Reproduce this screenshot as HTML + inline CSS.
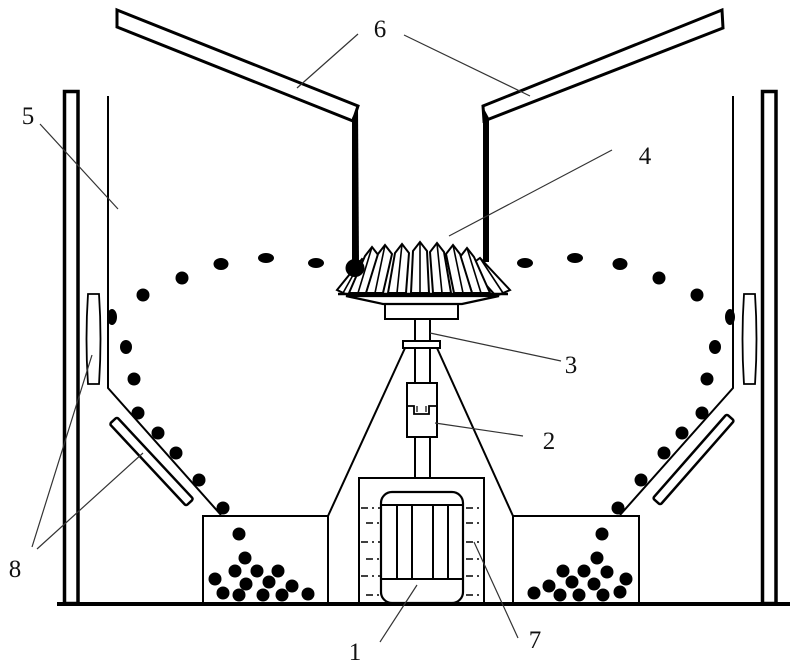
<!DOCTYPE html>
<html><head><meta charset="utf-8"><style>
html,body{margin:0;padding:0;background:#fff;}
svg{display:block;}
text{font-family:"Liberation Serif",serif;font-size:25px;fill:#111;}
</style></head><body>
<svg width="800" height="668" viewBox="0 0 800 668" xmlns="http://www.w3.org/2000/svg">
<rect width="800" height="668" fill="#fff"/>
<g fill="none" stroke="#000" stroke-linejoin="miter">
<!-- outer frames -->
<rect x="64.5" y="91.5" width="13.5" height="512" stroke-width="3.5"/>
<rect x="762.5" y="91.5" width="13.5" height="512" stroke-width="3.5"/>
<!-- inner walls -->
<polyline points="108,96 108,388 221,515" stroke-width="2"/>
<polyline points="733,96 733,388 620,515" stroke-width="2"/>
<!-- vertical lenses 8 -->
<path d="M88,294 L99,294 Q102,339 99,384 L88,384 Q85,339 88,294 Z" stroke-width="1.8"/>
<path d="M744,294 L755,294 Q758,339 755,384 L744,384 Q741,339 744,294 Z" stroke-width="1.8"/>
<!-- tilted lenses -->
<rect x="-56" y="-5" width="112" height="10" rx="2" transform="translate(151.5,461.5) rotate(47)" stroke-width="2.5"/>
<rect x="-56" y="-5" width="112" height="10" rx="2" transform="translate(693.5,459.5) rotate(-48.7)" stroke-width="2.5"/>
<!-- bins -->
<rect x="203" y="516" width="125" height="88" stroke-width="2"/>
<rect x="513" y="516" width="126" height="88" stroke-width="2"/>
<!-- support triangle -->
<line x1="405" y1="348" x2="328" y2="516" stroke-width="2"/>
<line x1="437" y1="348" x2="513" y2="516" stroke-width="2"/>
<!-- shaft -->
<line x1="415" y1="319" x2="415" y2="341" stroke-width="2"/>
<line x1="430" y1="319" x2="430" y2="341" stroke-width="2"/>
<line x1="415" y1="348" x2="415" y2="383" stroke-width="2"/>
<line x1="430" y1="348" x2="430" y2="383" stroke-width="2"/>
<line x1="415" y1="437" x2="415" y2="478" stroke-width="2"/>
<line x1="430" y1="437" x2="430" y2="478" stroke-width="2"/>
<rect x="403" y="341" width="37" height="7" stroke-width="2"/>
<!-- coupling 2 -->
<rect x="407" y="383" width="30" height="54" stroke-width="2"/>
<path d="M407,406 H414 V414 H429 V406 H437" stroke-width="1.8"/>
<line x1="417" y1="406" x2="417" y2="412" stroke-width="1.2"/>
<line x1="426" y1="406" x2="426" y2="412" stroke-width="1.2"/>
<!-- motor box -->
<rect x="359" y="478" width="125" height="126" stroke-width="2"/>
<rect x="381" y="492" width="82" height="111" rx="11" stroke-width="2.2"/>
<line x1="381" y1="505" x2="463" y2="505" stroke-width="2"/>
<line x1="381" y1="579" x2="463" y2="579" stroke-width="2"/>
<line x1="397" y1="505" x2="397" y2="579" stroke-width="2"/>
<line x1="412" y1="505" x2="412" y2="579" stroke-width="2"/>
<line x1="433" y1="505" x2="433" y2="579" stroke-width="2"/>
<line x1="448" y1="505" x2="448" y2="579" stroke-width="2"/>
<g stroke-width="1.5" stroke-dasharray="7,4,2,4">
<line x1="361" y1="508" x2="380" y2="508"/>
<line x1="366" y1="523" x2="380" y2="523"/>
<line x1="361" y1="542" x2="380" y2="542"/>
<line x1="366" y1="559" x2="380" y2="559"/>
<line x1="361" y1="576" x2="380" y2="576"/>
<line x1="366" y1="595" x2="380" y2="595"/>
<line x1="466" y1="508" x2="483" y2="508"/>
<line x1="466" y1="523" x2="483" y2="523"/>
<line x1="466" y1="542" x2="483" y2="542"/>
<line x1="466" y1="559" x2="483" y2="559"/>
<line x1="466" y1="576" x2="483" y2="576"/>
<line x1="466" y1="595" x2="483" y2="595"/>
</g>
<!-- baseline -->
<line x1="57" y1="604" x2="790" y2="604" stroke-width="4"/>
<!-- chutes 6 -->
<polygon points="117,10 358,106 353,121 117,27" stroke-width="3"/>
<polygon points="722,10 483,106 484,121 723,28" stroke-width="3"/>
<!-- plate under gear -->
<path d="M346,296 H499 L462,304 H383 Z" stroke-width="2.2"/>
<rect x="385" y="304" width="73" height="15" stroke-width="2"/>
<!-- gear fins -->
<g fill="#fff" stroke-width="2">
<polygon points="337,290 362,259 373,267 350,296"/>
<polygon points="510,290 480,258 469,266 496,296"/>
<polygon points="372,247 379,256 367,293 349,293 365,256"/>
<polygon points="467,248 474,257 490,293 472,293 460,257"/>
<polygon points="385,245 392,254 383,293 366,293 378,254"/>
<polygon points="453,245 460,254 472,293 454,293 446,254"/>
<polygon points="402,244 409,253 406,293 388,293 395,253"/>
<polygon points="437,243 444,252 451,293 433,293 430,252"/>
<polygon points="420,242 427,251 429,293 411,293 413,251"/>
</g>
<g stroke-width="1.6">
<line x1="372" y1="247" x2="358" y2="293"/>
<line x1="385" y1="245" x2="375" y2="293"/>
<line x1="402" y1="244" x2="397" y2="293"/>
<line x1="420" y1="242" x2="420" y2="293"/>
<line x1="437" y1="243" x2="442" y2="293"/>
<line x1="453" y1="245" x2="463" y2="293"/>
<line x1="467" y1="248" x2="481" y2="293"/>
<line x1="362" y1="259" x2="343" y2="293"/>
<line x1="480" y1="258" x2="503" y2="293"/>
</g>
<line x1="338" y1="294" x2="508" y2="294" stroke-width="2.4"/>
</g>
<!-- chute bars -->
<polygon points="352,118 358,107 359,262 352,262" fill="#000"/>
<polygon points="483,107 489,118 489,262 483,262" fill="#000"/>
<!-- balls -->
<g fill="#000">
<ellipse cx="355" cy="268" rx="9.5" ry="9"/>
<ellipse cx="316" cy="263" rx="8" ry="5"/>
<ellipse cx="266" cy="258" rx="8" ry="5"/>
<ellipse cx="221" cy="264" rx="7.5" ry="6"/>
<ellipse cx="182" cy="278" rx="6.5" ry="6.5"/>
<ellipse cx="143" cy="295" rx="6.5" ry="6.5"/>
<ellipse cx="112" cy="317" rx="5" ry="8"/>
<ellipse cx="126" cy="347" rx="6" ry="7"/>
<ellipse cx="134" cy="379" rx="6.5" ry="6.5"/>
<ellipse cx="138" cy="413" rx="6.5" ry="6.5"/>
<ellipse cx="158" cy="433" rx="6.5" ry="6.5"/>
<ellipse cx="176" cy="453" rx="6.5" ry="6.5"/>
<ellipse cx="199" cy="480" rx="6.5" ry="6.5"/>
<ellipse cx="223" cy="508" rx="6.5" ry="6.5"/>
<ellipse cx="525" cy="263" rx="8" ry="5"/>
<ellipse cx="575" cy="258" rx="8" ry="5"/>
<ellipse cx="620" cy="264" rx="7.5" ry="6"/>
<ellipse cx="659" cy="278" rx="6.5" ry="6.5"/>
<ellipse cx="697" cy="295" rx="6.5" ry="6.5"/>
<ellipse cx="730" cy="317" rx="5" ry="8"/>
<ellipse cx="715" cy="347" rx="6" ry="7"/>
<ellipse cx="707" cy="379" rx="6.5" ry="6.5"/>
<ellipse cx="702" cy="413" rx="6.5" ry="6.5"/>
<ellipse cx="682" cy="433" rx="6.5" ry="6.5"/>
<ellipse cx="664" cy="453" rx="6.5" ry="6.5"/>
<ellipse cx="641" cy="480" rx="6.5" ry="6.5"/>
<ellipse cx="618" cy="508" rx="6.5" ry="6.5"/>
<!-- left bin -->
<circle cx="239" cy="534" r="6.5"/>
<circle cx="245" cy="558" r="6.5"/>
<circle cx="235" cy="571" r="6.5"/>
<circle cx="257" cy="571" r="6.5"/>
<circle cx="278" cy="571" r="6.5"/>
<circle cx="215" cy="579" r="6.5"/>
<circle cx="246" cy="584" r="6.5"/>
<circle cx="269" cy="582" r="6.5"/>
<circle cx="292" cy="586" r="6.5"/>
<circle cx="223" cy="593" r="6.5"/>
<circle cx="239" cy="595" r="6.5"/>
<circle cx="263" cy="595" r="6.5"/>
<circle cx="282" cy="595" r="6.5"/>
<circle cx="308" cy="594" r="6.5"/>
<!-- right bin -->
<circle cx="602" cy="534" r="6.5"/>
<circle cx="597" cy="558" r="6.5"/>
<circle cx="563" cy="571" r="6.5"/>
<circle cx="584" cy="571" r="6.5"/>
<circle cx="607" cy="572" r="6.5"/>
<circle cx="626" cy="579" r="6.5"/>
<circle cx="549" cy="586" r="6.5"/>
<circle cx="572" cy="582" r="6.5"/>
<circle cx="594" cy="584" r="6.5"/>
<circle cx="534" cy="593" r="6.5"/>
<circle cx="560" cy="595" r="6.5"/>
<circle cx="579" cy="595" r="6.5"/>
<circle cx="603" cy="595" r="6.5"/>
<circle cx="620" cy="592" r="6.5"/>
</g>
<!-- leader lines -->
<g stroke="#333" stroke-width="1.2" fill="none">
<line x1="358" y1="34" x2="297" y2="88"/>
<line x1="404" y1="35" x2="530" y2="96"/>
<line x1="40" y1="124" x2="118" y2="209"/>
<line x1="612" y1="150" x2="449" y2="236"/>
<line x1="430" y1="333" x2="561" y2="361"/>
<line x1="435" y1="423" x2="523" y2="436"/>
<line x1="32" y1="547" x2="92" y2="355"/>
<line x1="37" y1="549" x2="143" y2="453"/>
<line x1="417" y1="585" x2="380" y2="642"/>
<line x1="474" y1="542" x2="518" y2="638"/>
</g>
<!-- labels -->
<text x="380" y="37" text-anchor="middle">6</text>
<text x="28" y="124" text-anchor="middle">5</text>
<text x="645" y="164" text-anchor="middle">4</text>
<text x="571" y="373" text-anchor="middle">3</text>
<text x="549" y="449" text-anchor="middle">2</text>
<text x="15" y="577" text-anchor="middle">8</text>
<text x="355" y="660" text-anchor="middle">1</text>
<text x="535" y="648" text-anchor="middle">7</text>
</svg>
</body></html>
